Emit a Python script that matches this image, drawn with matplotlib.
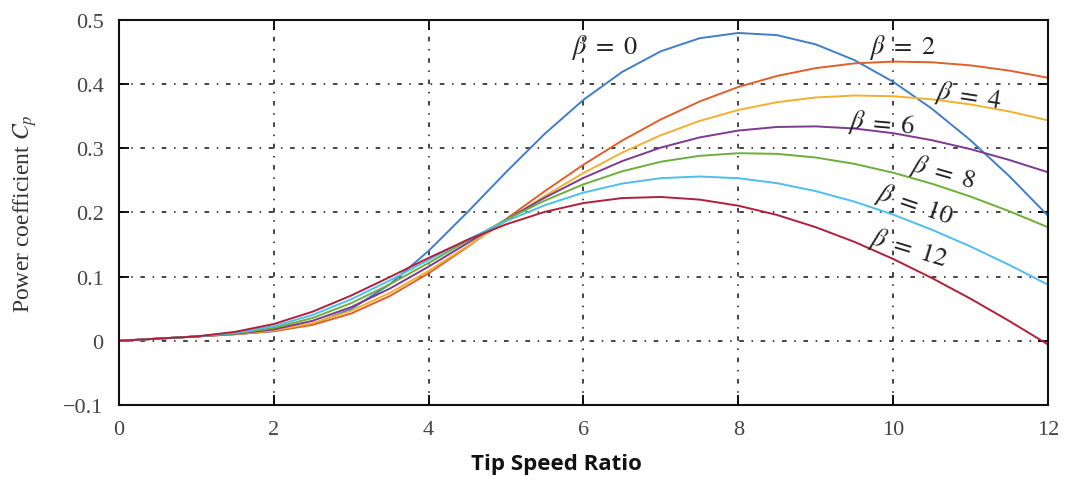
import matplotlib
matplotlib.use("Agg")
import matplotlib.pyplot as plt

plt.rcParams['mathtext.fontset'] = 'stix'
plt.rcParams['font.family'] = ['Liberation Serif', 'DejaVu Serif']

# Tip speed ratio samples
tsr = [0, 0.5, 1, 1.5, 2, 2.5, 3, 3.5, 4, 4.5, 5, 5.5, 6, 6.5, 7, 7.5, 8,
       8.5, 9, 9.5, 10, 10.5, 11, 11.5, 12]

# Power coefficient curves, one per pitch angle
cp_beta0 = [0, 0.0034, 0.0068, 0.0103, 0.0151, 0.0261, 0.0496, 0.0882, 0.1402,
            0.2003, 0.2629, 0.3227, 0.3756, 0.4191, 0.4513, 0.4716, 0.4798,
            0.4764, 0.4620, 0.4375, 0.4037, 0.3618, 0.3125, 0.2567, 0.1950]
cp_beta2 = [0, 0.0034, 0.0068, 0.0103, 0.0152, 0.0248, 0.0426, 0.0699, 0.1053,
            0.1462, 0.1897, 0.2332, 0.2745, 0.3121, 0.3451, 0.3730, 0.3956,
            0.4128, 0.4250, 0.4324, 0.4352, 0.4341, 0.4293, 0.4211, 0.4100]
cp_beta4 = [0, 0.0034, 0.0068, 0.0105, 0.0163, 0.0275, 0.0469, 0.0747, 0.1090,
            0.1474, 0.1870, 0.2256, 0.2615, 0.2933, 0.3205, 0.3427, 0.3598,
            0.3719, 0.3793, 0.3823, 0.3812, 0.3764, 0.3684, 0.3574, 0.3437]
cp_beta6 = [0, 0.0034, 0.0068, 0.0109, 0.0179, 0.0312, 0.0526, 0.0815, 0.1156,
            0.1522, 0.1887, 0.2231, 0.2539, 0.2801, 0.3012, 0.3170, 0.3277,
            0.3333, 0.3342, 0.3309, 0.3236, 0.3127, 0.2987, 0.2819, 0.2627]
cp_beta8 = [0, 0.0034, 0.0068, 0.0115, 0.0201, 0.0356, 0.0587, 0.0882, 0.1214,
            0.1558, 0.1888, 0.2185, 0.2439, 0.2642, 0.2791, 0.2883, 0.2924,
            0.2914, 0.2857, 0.2758, 0.2620, 0.2449, 0.2248, 0.2020, 0.1770]
cp_beta10 = [0, 0.0034, 0.0068, 0.0125, 0.0229, 0.0403, 0.0648, 0.0943, 0.1261,
             0.1575, 0.1865, 0.2113, 0.2310, 0.2451, 0.2535, 0.2561, 0.2534,
             0.2457, 0.2333, 0.2169, 0.1967, 0.1732, 0.1470, 0.1183, 0.0875]
cp_beta12 = [0, 0.0034, 0.0068, 0.0140, 0.0262, 0.0454, 0.0706, 0.0995, 0.1292,
             0.1572, 0.1815, 0.2010, 0.2147, 0.2225, 0.2242, 0.2201, 0.2106,
             0.1962, 0.1771, 0.1542, 0.1276, 0.0979, 0.0656, 0.0309, -0.0057]

series = [cp_beta0, cp_beta2, cp_beta4, cp_beta6, cp_beta8, cp_beta10, cp_beta12]
labels = [r'$\beta\ =\ 0$', r'$\beta\ =\ 2$', r'$\beta\ =\ 4$', r'$\beta\ =\ 6$',
          r'$\beta\ =\ 8$', r'$\beta\ =\ 10$', r'$\beta\ =\ 12$']
colors = ['#3f7fc8', '#e0602a', '#f0b030', '#7e3a90', '#6eae3a', '#4dbeee', '#b0203c']

# label anchor positions (data) and rotations
label_x = [6.28, 10.12, 10.98, 9.85, 10.64, 10.28, 10.2]
label_y = [0.459, 0.459, 0.382, 0.338, 0.262, 0.212, 0.145]
label_rot = [0, 0, -9, -5, -16, -19, -17]

xticks = [0, 2, 4, 6, 8, 10, 12]
yticks = [-0.1, 0, 0.1, 0.2, 0.3, 0.4, 0.5]
ytick_labels = ['\u22120.1', '0', '0.1', '0.2', '0.3', '0.4', '0.5']

fig = plt.figure(figsize=(10.65, 4.85), dpi=100)
ax = fig.add_axes([0.1117, 0.1629, 0.8723, 0.7938])

for ys, c in zip(series, colors):
    ax.plot(tsr, ys, color=c, lw=1.4)

for lx, ly, lt, r in zip(label_x, label_y, labels, label_rot):
    ax.text(lx, ly, lt, fontsize=19, color='#222222', ha='center', va='center',
            rotation=r)

ax.set_xlim(0, 12)
ax.set_ylim(-0.1, 0.5)
ax.set_xticks(xticks)
ax.set_yticks(yticks)
ax.set_yticklabels(ytick_labels)
ax.grid(True, color='#111111', linestyle=(0, (3, 5, 1, 5)), linewidth=1.1)
ax.tick_params(direction='in', top=True, right=True, length=7, width=1.3,
               labelsize=16, labelcolor='#444444', pad=11)
for s in ax.spines.values():
    s.set_linewidth(1.5)
    s.set_color('#111111')

ax.set_ylabel(r'Power coefficient $C_p$', fontsize=17, color='#333333')
ax.yaxis.set_label_coords(-0.086, 0.5)
ax.set_xlabel('Tip Speed Ratio', fontsize=16, fontweight='bold', family='Open Sans',
              color='#111111')
ax.xaxis.set_label_coords(0.471, -0.125)

fig.savefig('out.png', dpi=100)
